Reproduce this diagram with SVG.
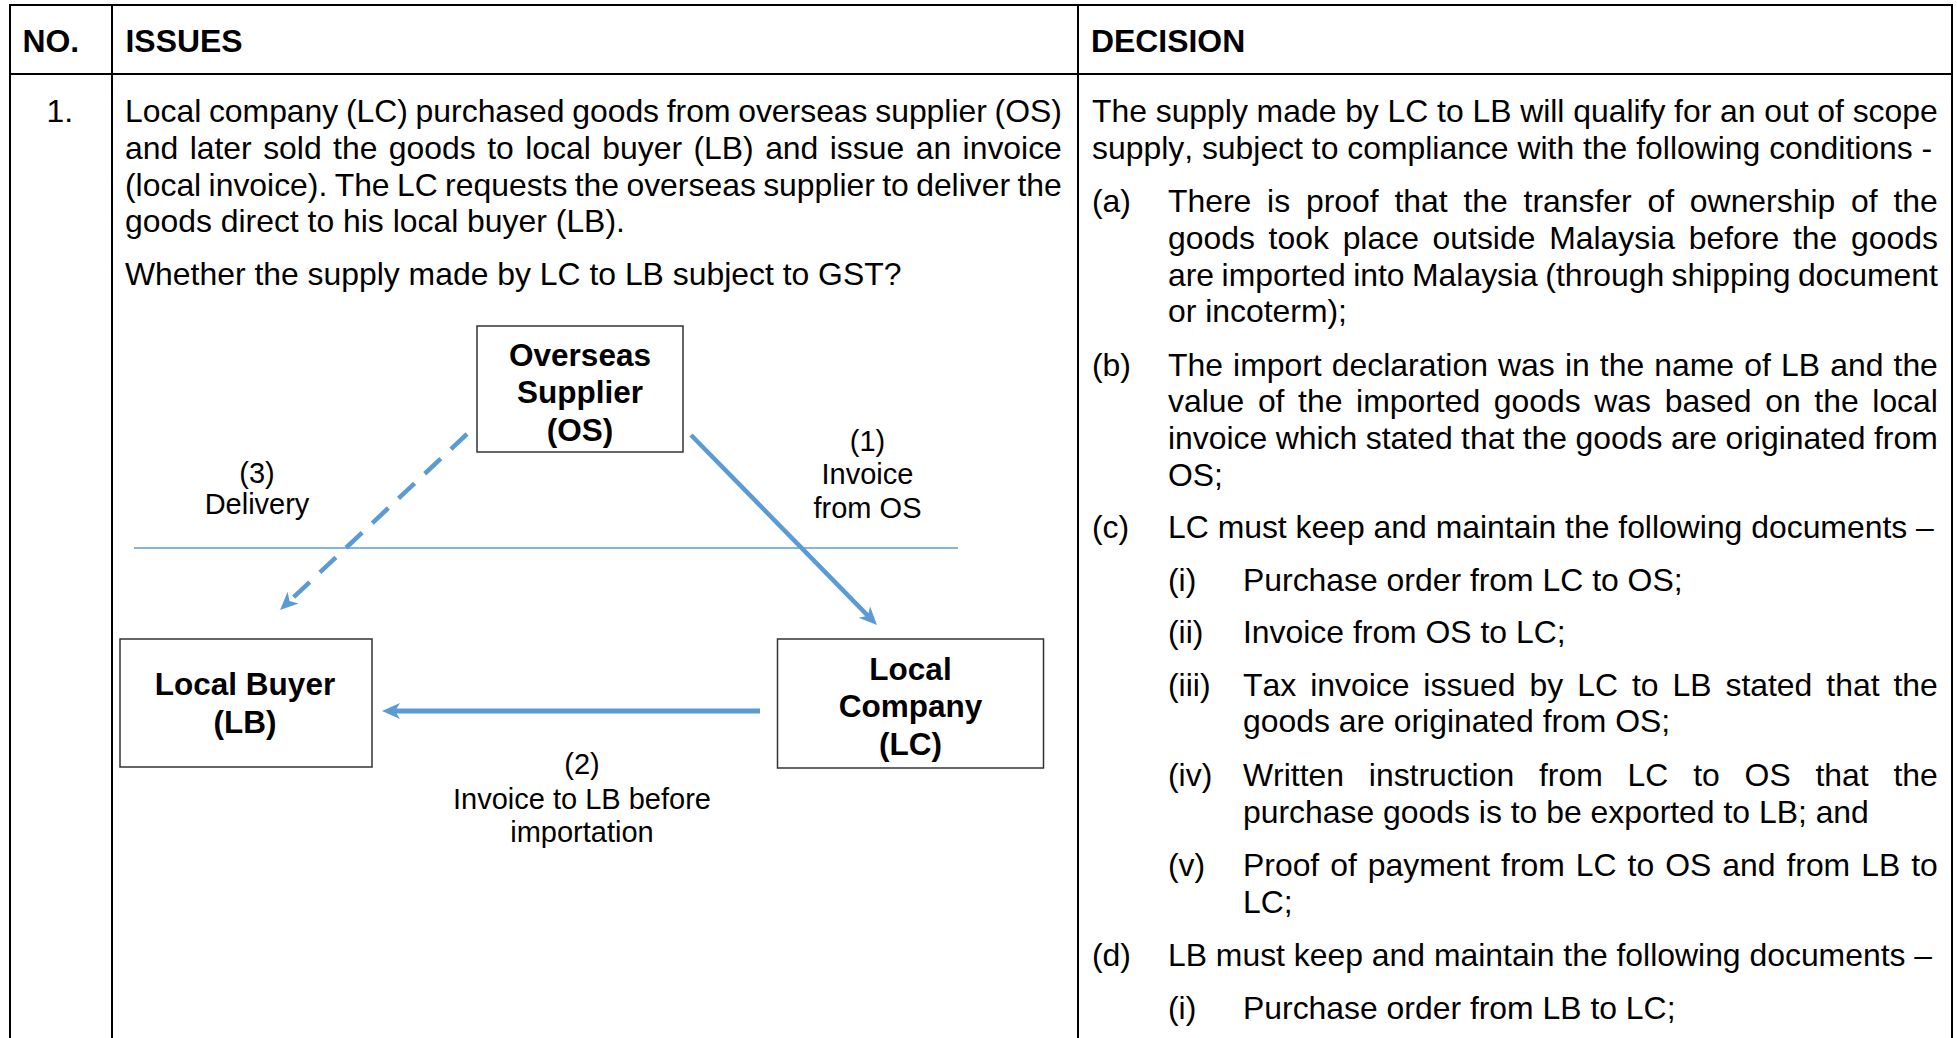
<svg xmlns="http://www.w3.org/2000/svg" width="1957" height="1038" viewBox="0 0 1957 1038">
<style>
text { font-family: "Liberation Sans", Arial, sans-serif; fill: #000; font-kerning: none; }
.b { font-size: 31.9px; }
.h { font-size: 31.9px; font-weight: bold; }
.n { font-size: 31.5px; font-weight: bold; text-anchor: middle; }
.l { font-size: 29px; text-anchor: middle; }
.grid { stroke: #000; stroke-width: 2; fill: none; }
.box { fill: #fff; stroke: #333; stroke-width: 1.5; }
.arr { stroke: #5B9BD5; stroke-width: 4.5; fill: none; }
.thick { stroke-width: 5.2; }
.dash { stroke-dasharray: 22 14; }
.border { stroke: #5B9BD5; stroke-width: 1.5; fill: none; }
</style>
<defs>
<marker id="ah" viewBox="0 -9 20 18" refX="8" refY="0" markerWidth="20" markerHeight="18" markerUnits="userSpaceOnUse" orient="auto">
<path d="M0,-8 L18,0 L0,8 L5,0 Z" fill="#5B9BD5"/>
</marker>
</defs>
<rect x="0" y="0" width="1957" height="1038" fill="#fff"/>
<g id="table">
<line class="grid" x1="10" y1="5" x2="1952" y2="5"/>
<line class="grid" x1="10" y1="74" x2="1952" y2="74"/>
<line class="grid" x1="10" y1="4" x2="10" y2="1038"/>
<line class="grid" x1="112" y1="4" x2="112" y2="1038"/>
<line class="grid" x1="1078" y1="4" x2="1078" y2="1038"/>
<line class="grid" x1="1952" y1="4" x2="1952" y2="1038"/>
</g>
<g id="header">
<text class="h" x="22.5" y="52">NO.</text>
<text class="h" x="125.5" y="52">ISSUES</text>
<text class="h" x="1091" y="52">DECISION</text>
</g>
<g id="issues">
<text class="b" x="46.5" y="122">1.</text>
<text class="b" x="125" y="122" style="word-spacing:-1.21px">Local company (LC) purchased goods from overseas supplier (OS)</text>
<text class="b" x="125" y="158.8" style="word-spacing:2.58px">and later sold the goods to local buyer (LB) and issue an invoice</text>
<text class="b" x="125" y="195.6" style="word-spacing:-1.51px">(local invoice). The LC requests the overseas supplier to deliver the</text>
<text class="b" x="125" y="232.4">goods direct to his local buyer (LB).</text>
<text class="b" x="125" y="285">Whether the supply made by LC to LB subject to GST?</text>
</g>
<g id="decision">
<text class="b" x="1092" y="122" style="word-spacing:-0.12px">The supply made by LC to LB will qualify for an out of scope</text>
<text class="b" x="1092" y="158.8">supply, subject to compliance with the following conditions -</text>
<text class="b" x="1092" y="212.3">(a)</text>
<text class="b" x="1168" y="212.3" style="word-spacing:6.94px">There is proof that the transfer of ownership of the</text>
<text class="b" x="1168" y="248.9" style="word-spacing:4.87px">goods took place outside Malaysia before the goods</text>
<text class="b" x="1168" y="285.5" style="word-spacing:-1.38px">are imported into Malaysia (through shipping document</text>
<text class="b" x="1168" y="322.1">or incoterm);</text>
<text class="b" x="1092" y="375.8">(b)</text>
<text class="b" x="1168" y="375.8" style="word-spacing:1.29px">The import declaration was in the name of LB and the</text>
<text class="b" x="1168" y="412.4" style="word-spacing:4.78px">value of the imported goods was based on the local</text>
<text class="b" x="1168" y="449" style="word-spacing:-0.39px">invoice which stated that the goods are originated from</text>
<text class="b" x="1168" y="485.6">OS;</text>
<text class="b" x="1092" y="537.5">(c)</text>
<text class="b" x="1168" y="537.5">LC must keep and maintain the following documents –</text>
<text class="b" x="1168" y="590.5">(i)</text>
<text class="b" x="1243" y="590.5">Purchase order from LC to OS;</text>
<text class="b" x="1168" y="643">(ii)</text>
<text class="b" x="1243" y="643">Invoice from OS to LC;</text>
<text class="b" x="1168" y="695.5">(iii)</text>
<text class="b" x="1243" y="695.5" style="word-spacing:5.11px">Tax invoice issued by LC to LB stated that the</text>
<text class="b" x="1243" y="732.3">goods are originated from OS;</text>
<text class="b" x="1168" y="786">(iv)</text>
<text class="b" x="1243" y="786" style="word-spacing:15.96px">Written instruction from LC to OS that the</text>
<text class="b" x="1243" y="823">purchase goods is to be exported to LB; and</text>
<text class="b" x="1168" y="875.5">(v)</text>
<text class="b" x="1243" y="875.5" style="word-spacing:2.12px">Proof of payment from LC to OS and from LB to</text>
<text class="b" x="1243" y="912.5">LC;</text>
<text class="b" x="1092" y="966">(d)</text>
<text class="b" x="1168" y="966">LB must keep and maintain the following documents –</text>
<text class="b" x="1168" y="1018.5">(i)</text>
<text class="b" x="1243" y="1018.5">Purchase order from LB to LC;</text>
</g>
<g id="connectors">
<line class="border" x1="134" y1="548" x2="958" y2="548"/>
<line id="c1" class="arr" x1="691" y1="435" x2="870" y2="617.9" marker-end="url(#ah)"/>
<line id="c2" class="arr thick" x1="760" y1="711" x2="392" y2="711" marker-end="url(#ah)"/>
<line id="c3" class="arr dash" x1="467" y1="434" x2="287.3" y2="603.1" marker-end="url(#ah)"/>
</g>
<g id="node-os">
<rect class="box" x="477" y="326" width="206" height="126"/>
<text class="n" x="580" y="366">Overseas</text>
<text class="n" x="580" y="402.5">Supplier</text>
<text class="n" x="580" y="441">(OS)</text>
</g>
<g id="node-lb">
<rect class="box" x="120" y="639" width="252" height="128"/>
<text class="n" x="245" y="695">Local Buyer</text>
<text class="n" x="245" y="732.5">(LB)</text>
</g>
<g id="node-lc">
<rect class="box" x="777.5" y="639" width="266" height="129"/>
<text class="n" x="910.5" y="680">Local</text>
<text class="n" x="910.5" y="717">Company</text>
<text class="n" x="910.5" y="755">(LC)</text>
</g>
<g id="labels">
<text class="l" x="257" y="483">(3)</text>
<text class="l" x="257" y="514">Delivery</text>
<text class="l" x="867.5" y="450.5">(1)</text>
<text class="l" x="867.5" y="484">Invoice</text>
<text class="l" x="867.5" y="517.5">from OS</text>
<text class="l" x="582" y="774">(2)</text>
<text class="l" x="582" y="809">Invoice to LB before</text>
<text class="l" x="582" y="842">importation</text>
</g>
</svg>
